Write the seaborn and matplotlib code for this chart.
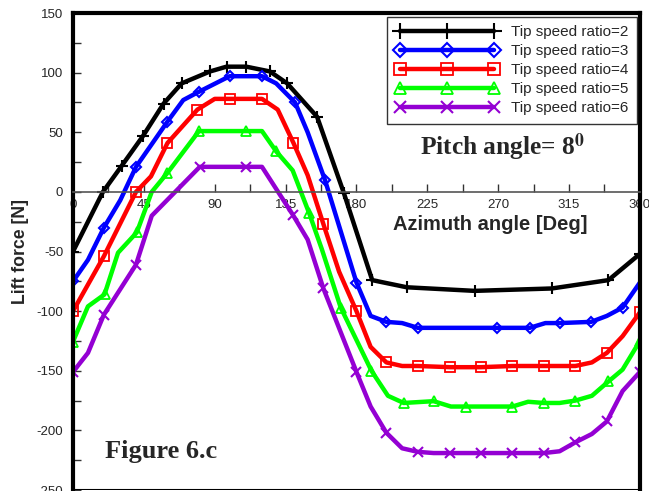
import matplotlib
matplotlib.use("Agg")
import matplotlib.pyplot as plt
import seaborn as sns
from matplotlib.lines import Line2D
from matplotlib.ticker import MultipleLocator

# lift force [N] against azimuth angle [deg]
tsr2_az = [0, 19, 31, 44.5, 57.5, 69, 87, 97.5, 110, 125, 136, 155, 172, 190, 212, 255, 304, 340, 360]
tsr2_lift = [-50, 0, 22, 47, 74, 91, 101, 105, 105, 101, 91, 63, -1, -74, -80, -83, -81, -74, -52]

tsr3_az = [0, 9.5, 19.6, 30, 40, 60, 70, 80, 99.5, 120, 129, 141, 149, 160, 180, 189, 199, 209, 219,
           269, 290, 300, 309, 329, 339, 349, 360]
tsr3_lift = [-75, -57, -30, -7, 21, 59, 77, 84, 97, 97, 91, 75, 50, 10, -76, -104, -109, -110, -114,
             -114, -114, -110, -110, -109, -104, -97, -76]
tsr3_marks = [0, 2, 4, 5, 7, 8, 9, 11, 13, 14, 16, 18, 19, 20, 22, 23, 25]

tsr4_az = [0, 19.6, 40, 49.5, 60, 79, 90, 100, 120, 130, 140, 149, 159, 169, 180, 189, 199, 209, 219,
           239.5, 259, 279, 299, 319, 329.5, 339, 349, 360]
tsr4_lift = [-100, -54, 0, 13, 41, 69, 78, 78, 78, 69, 41, 14, -27, -67, -100, -130, -143, -146, -146,
             -147, -147, -146, -146, -146, -143, -135, -121, -101]
tsr4_marks = [0, 1, 2, 4, 5, 7, 8, 10, 12, 14, 16, 18, 19, 20, 21, 22, 23, 25, 27]

tsr5_az = [0, 9.5, 20, 28.6, 40.5, 50, 60, 80, 110, 120, 129, 139.5, 150, 158, 170, 189.5, 200, 210,
           229, 240, 249.5, 279, 289, 299, 309, 319, 329.5, 340, 349, 360]
tsr5_lift = [-125.5, -96, -86, -51, -34, 0, 16, 51, 51, 51, 34, 18, -18, -48, -97, -150, -171, -177,
             -175.5, -180, -180, -180, -176, -177, -177, -175, -171, -159, -149, -125]
tsr5_marks = [0, 2, 4, 6, 7, 8, 10, 12, 14, 15, 17, 18, 20, 21, 23, 25, 27, 29]

tsr6_az = [0, 9.5, 19.6, 40, 50, 80.5, 110, 120, 139.5, 149, 159, 180, 189, 199, 209, 219, 229,
           239.5, 259, 279, 299, 309, 319, 329.5, 339, 349, 360]
tsr6_lift = [-151, -135, -103, -61, -20, 21, 21, 21, -19, -40, -81, -151, -180, -202, -215, -218, -219,
             -219, -219, -219, -219, -217.5, -210, -203, -192.5, -167, -151]
tsr6_marks = [0, 2, 3, 5, 6, 8, 10, 11, 13, 15, 17, 18, 19, 20, 22, 24, 26]

labels = ["Tip speed ratio=2", "Tip speed ratio=3", "Tip speed ratio=4",
          "Tip speed ratio=5", "Tip speed ratio=6"]
x_ticks = [0, 45, 90, 135, 180, 225, 270, 315, 360]
y_min, y_max = -250, 150

sns.set_style("white")
plt.rcParams["font.family"] = ["Liberation Sans", "DejaVu Sans"]
plt.rcParams["mathtext.fontset"] = "stix"
plt.rcParams["axes.unicode_minus"] = False

fig = plt.figure(figsize=(6.49, 4.91), dpi=100)
ax = fig.add_axes([0.1125, 0.002, 0.8735, 0.9715])

styles = [
    dict(color="black", marker="+", markersize=8, markeredgewidth=1.5,
         markeredgecolor="black", markerfacecolor="black"),
    dict(color="#0000ff", marker="D", markersize=5, markeredgewidth=1.5,
         markeredgecolor="#0000ff", markerfacecolor="none"),
    dict(color="#ff0000", marker="s", markersize=6.5, markeredgewidth=1.3,
         markeredgecolor="#ff0000", markerfacecolor="none"),
    dict(color="#00ff00", marker="^", markersize=6.5, markeredgewidth=1.3,
         markeredgecolor="#00ff00", markerfacecolor="none"),
    dict(color="#9400d3", marker="x", markersize=6.5, markeredgewidth=1.5,
         markeredgecolor="#9400d3", markerfacecolor="none"),
]
series = [
    (tsr2_az, tsr2_lift, None),
    (tsr3_az, tsr3_lift, tsr3_marks),
    (tsr4_az, tsr4_lift, tsr4_marks),
    (tsr5_az, tsr5_lift, tsr5_marks),
    (tsr6_az, tsr6_lift, tsr6_marks),
]

for (az, lift, marks), st in zip(series, styles):
    sns.lineplot(x=az, y=lift, ax=ax, sort=False, estimator=None,
                 linewidth=3.2, markevery=marks, **st)

ax.set_xlim(0, 360)
ax.set_ylim(y_min, y_max)
ax.set_xticks(x_ticks)
ax.xaxis.set_minor_locator(MultipleLocator(22.5))
ax.yaxis.set_major_locator(MultipleLocator(50))
ax.yaxis.set_minor_locator(MultipleLocator(25))

# frame: thick left/top/right, x axis sits on zero
for side in ["left", "top", "right"]:
    ax.spines[side].set_linewidth(3)
    ax.spines[side].set_color("black")
ax.spines["bottom"].set_position(("data", 0))
ax.spines["bottom"].set_color("#555555")
ax.spines["bottom"].set_linewidth(1.2)
ax.axhline(y_min, color="black", linewidth=1.5)

ax.tick_params(axis="x", which="both", direction="in", length=6, width=1,
               color="#333333", labelsize=9.5, pad=5, bottom=True)
ax.tick_params(axis="y", which="both", direction="in", length=6, width=1,
               color="#333333", labelsize=9.5, pad=7, left=True)

ax.set_xlabel("")
ax.set_ylabel("Lift force [N]", fontsize=12.7, fontweight="bold")
ax.yaxis.set_label_coords(-0.078, 0.5)

ax.text(0.736, 0.557, "Azimuth angle [Deg]", transform=ax.transAxes,
        fontsize=14.5, fontweight="bold", ha="center", va="center")
ax.text(0.758, 0.72, r"Pitch angle= 8$^{\mathbf{0}}$", transform=ax.transAxes,
        fontsize=18.3, fontweight="bold", family="Liberation Serif",
        ha="center", va="center")
ax.text(0.155, 0.08, "Figure 6.c", transform=ax.transAxes,
        fontsize=19, fontweight="bold", family="Liberation Serif",
        ha="center", va="center")

handles = [Line2D([], [], linewidth=3.2, label=lab, **st) for lab, st in zip(labels, styles)]
leg = ax.legend(handles=handles, loc="upper right", bbox_to_anchor=(0.995, 0.992),
                borderaxespad=0, numpoints=3, handlelength=6.8, markerscale=1.4,
                fontsize=11, labelspacing=0.33, fancybox=False, framealpha=1,
                edgecolor="#333333", borderpad=0.55, handletextpad=0.8)
leg.get_frame().set_linewidth(1)

plt.savefig("out.png", dpi=100)
